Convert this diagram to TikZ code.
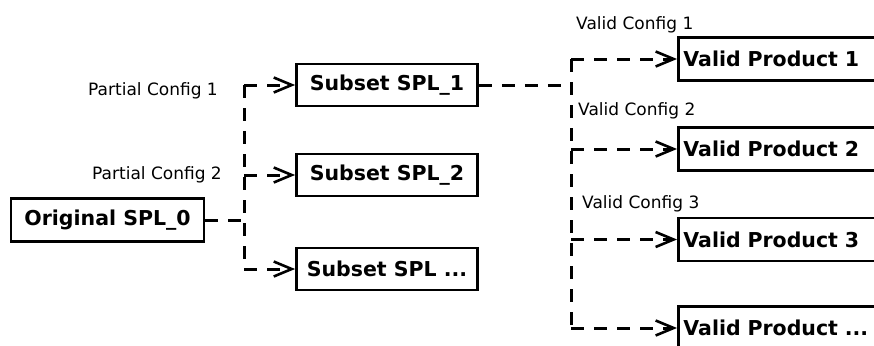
\documentclass[tikz,border=0pt]{standalone}
\usepackage{fontspec}
\setmainfont{DejaVu Sans}
\usetikzlibrary{arrows.meta}
\begin{document}
\begin{tikzpicture}[x=1pt,y=-1pt,
  box/.style={draw, line width=2.8pt, inner xsep=5pt, inner ysep=0pt,
    font=\fontsize{20.5}{25}\selectfont\bfseries},
  wbox/.style={box, anchor=west, text width=205pt, align=left, minimum height=43pt},
  lbl/.style={font=\fontsize{17}{20}\selectfont, inner sep=0pt},
  conn/.style={line width=3pt, dash pattern=on 13pt off 10pt},
  arr/.style={conn, -{Straight Barb[length=18pt,width=15pt,line width=2.6pt]}}]
\useasboundingbox (0,0) rectangle (874,345);
\clip (0,0) rectangle (874,345);

% left column
\node[box, minimum width=193pt, minimum height=43pt] (o) at (107.5,220) {Original SPL\_0};
\node[box, minimum width=181pt, minimum height=42pt] (s1) at (387,85) {Subset SPL\_1};
\node[box, minimum width=181pt, minimum height=42pt] (s2) at (387,175) {Subset SPL\_2};
\node[box, minimum width=181pt, minimum height=42pt] (s3) at (387,269) {Subset SPL ...};

% right column
\node[wbox] (v1) at (677,59) {Valid Product 1};
\node[wbox] (v2) at (677,149) {Valid Product 2};
\node[wbox] (v3) at (677,239.5) {Valid Product 3};
\node[wbox] (v4) at (677,328) {Valid Product ...};

% labels
\node[lbl, anchor=base east] (p1) at (218,95) {Partial Config 1};
\node[lbl, anchor=base east] (p2) at (222,179) {Partial Config 2};
\node[lbl, anchor=base west] (c1) at (576,30) {Valid Config 1};
\node[lbl, anchor=base west] (c2) at (578,115) {Valid Config 2};
\node[lbl, anchor=base west] (c3) at (582,208) {Valid Config 3};

% junctions
\coordinate (ja) at (244,85);
\coordinate (jb) at (244,269);
\coordinate (ka) at (571,59);
\coordinate (kb) at (571,328);

% connectors left
\draw[conn] (o.east) -- (o.east -| ja);
\draw[conn] (ja) -- (jb);
\draw[arr] (ja) -- (s1.west);
\draw[arr] (s2.west -| ja) -- (s2.west);
\draw[arr] (jb) -- (s3.west);

% connectors right
\draw[conn] (s1.east) -- (s1.east -| ka);
\draw[conn] (ka) -- (kb);
\draw[arr] (ka) -- (v1.west);
\draw[arr] (v2.west -| ka) -- (v2.west);
\draw[arr] (v3.west -| ka) -- (v3.west);
\draw[arr] (kb) -- (v4.west);
\end{tikzpicture}
\end{document}
